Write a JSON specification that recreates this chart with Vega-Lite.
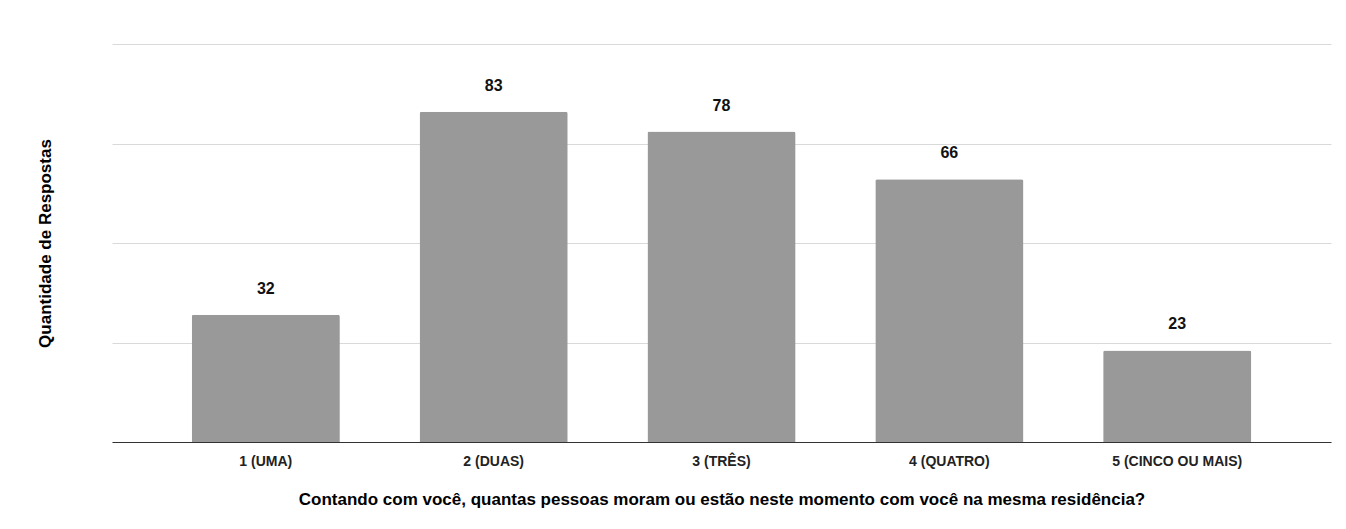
{
  "$schema": "https://vega.github.io/schema/vega-lite/v6.json",
  "width": 1219,
  "height": 398,
  "autosize": {"type": "none"},
  "padding": {"left": 112, "top": 44, "right": 15, "bottom": 87},
  "background": "white",
  "config": {
    "font": "Liberation Sans",
    "view": {"stroke": null}
  },
  "data": {
    "values": [
      {"cat": "1 (UMA)", "n": 32},
      {"cat": "2 (DUAS)", "n": 83},
      {"cat": "3 (TRÊS)", "n": 78},
      {"cat": "4 (QUATRO)", "n": 66},
      {"cat": "5 (CINCO OU MAIS)", "n": 23}
    ]
  },
  "encoding": {
    "x": {
      "field": "cat",
      "type": "nominal",
      "sort": null,
      "scale": {"paddingInner": 0.35, "paddingOuter": 0.35},
      "axis": {
        "title": "Contando com você, quantas pessoas moram ou estão neste momento com você na mesma residência?",
        "titleFont": "Liberation Sans",
        "titleFontSize": 17,
        "titleFontWeight": "bold",
        "titleColor": "#000000",
        "titlePadding": 23,
        "labelAngle": 0,
        "labelFont": "Liberation Sans",
        "labelFontSize": 14,
        "labelFontWeight": "bold",
        "labelColor": "#222222",
        "labelPadding": 12,
        "ticks": false,
        "domainColor": "#333333",
        "domainWidth": 1
      }
    },
    "y": {
      "field": "n",
      "type": "quantitative",
      "scale": {"domain": [0, 100], "nice": false},
      "axis": {
        "title": "Quantidade de Respostas",
        "titleFont": "Liberation Sans",
        "titleFontSize": 17,
        "titleFontWeight": "bold",
        "titleColor": "#000000",
        "titleX": -58,
        "labels": false,
        "ticks": false,
        "domain": false,
        "values": [0, 25, 50, 75, 100],
        "gridColor": "#d9d9d9",
        "gridWidth": 1
      }
    }
  },
  "layer": [
    {
      "mark": {"type": "bar", "color": "#999999", "cornerRadiusTopLeft": 2, "cornerRadiusTopRight": 2}
    },
    {
      "mark": {"type": "text", "baseline": "bottom", "dy": -18, "fontSize": 16, "fontWeight": "bold", "color": "#111111", "font": "Liberation Sans"},
      "encoding": {"text": {"field": "n", "type": "quantitative"}}
    }
  ]
}
